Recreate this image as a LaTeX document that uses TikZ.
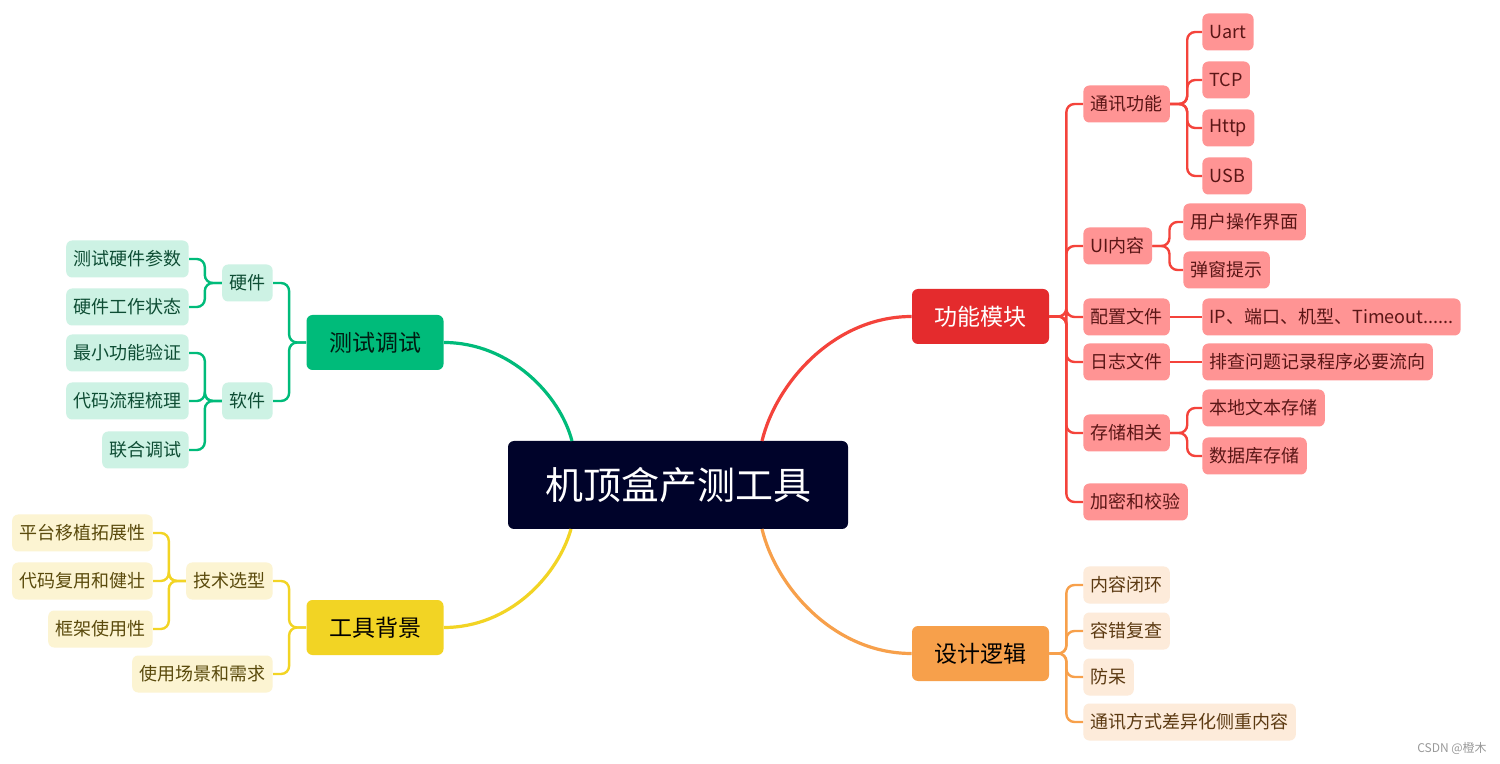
\documentclass[tikz,border=0pt]{standalone}
\usepackage{fontspec}
\setmainfont{Noto Sans CJK SC}
\definecolor{cnavy}{HTML}{00032A}
\definecolor{rmain}{HTML}{E42B2D}
\definecolor{rline}{HTML}{F4433B}
\definecolor{rchild}{HTML}{FF9494}
\definecolor{rtext}{HTML}{5A1616}
\definecolor{omain}{HTML}{F7A04B}
\definecolor{ochild}{HTML}{FDEBDA}
\definecolor{otext}{HTML}{5C3A12}
\definecolor{gmain}{HTML}{00BB7A}
\definecolor{gchild}{HTML}{CDF2E4}
\definecolor{gtext}{HTML}{0E4D34}
\definecolor{ymain}{HTML}{F2D424}
\definecolor{ychild}{HTML}{FCF4D2}
\definecolor{ytext}{HTML}{5A4A0C}
\tikzset{
  centralbox/.style={fill=cnavy, text=white, rounded corners=3pt, minimum width=170pt, minimum height=44pt, inner sep=0pt, font=\fontsize{19}{19}\selectfont},
  mainbox/.style={rounded corners=3pt, minimum width=68.5pt, minimum height=27.5pt, inner sep=0pt, font=\fontsize{11.5}{11.5}\selectfont},
  childbox/.style={rounded corners=3pt, minimum height=18.5pt, inner xsep=3.6pt, inner ysep=0pt, font=\fontsize{9}{9}\selectfont},
  rc/.style={childbox, fill=rchild, text=rtext, anchor=west},
  oc/.style={childbox, fill=ochild, text=otext, anchor=west},
  gc/.style={childbox, fill=gchild, text=gtext, anchor=east},
  yc/.style={childbox, fill=ychild, text=ytext, anchor=east},
  branch/.style={line width=1.2pt, rounded corners=4pt},
  curveline/.style={line width=1.6pt},
}
\begin{document}
\begin{tikzpicture}[x=0.5pt,y=-0.5pt]
\fill[white] (0,0) rectangle (1500,764);
\useasboundingbox (0,0) rectangle (1500,764);

% main nodes
\node[centralbox] (root) at (678,485) {机顶盒产测工具};
\node[mainbox, fill=rmain, text=white] (fn) at (980.5,316.5) {功能模块};
\node[mainbox, fill=omain, text=black] (dl) at (980.5,653.5) {设计逻辑};
\node[mainbox, fill=gmain, text=black!85!gmain] (ts) at (375,342.5) {测试调试};
\node[mainbox, fill=ymain, text=black] (bg) at (375,627.5) {工具背景};

\coordinate (rg) at (572,441);
\coordinate (rr) at (762,441);
\coordinate (ro) at (762,529);
\coordinate (ry) at (571,529);

\draw[curveline, gmain] (ts.east) .. controls (510,342.5) and (560,395) .. (rg);
\draw[curveline, rline] (fn.west) .. controls (834,316.5) and (776,383) .. (rr);
\draw[curveline, omain] (dl.west) .. controls (834,653.5) and (776,587) .. (ro);
\draw[curveline, ymain] (bg.east) .. controls (510,627.5) and (558,575) .. (ry);

% red children
\node[rc] (tx) at (1083,104) {通讯功能};
\node[rc] (ui) at (1083,246) {UI内容};
\node[rc] (pz) at (1083,317) {配置文件};
\node[rc] (rz) at (1083,362) {日志文件};
\node[rc] (cc) at (1083,433) {存储相关};
\node[rc] (jm) at (1083,502) {加密和校验};

\node[rc] (uart) at (1202,32) {Uart};
\node[rc] (tcp) at (1202,80) {TCP};
\node[rc] (http) at (1202,128) {Http};
\node[rc] (usb) at (1202,176) {USB};
\node[rc] (yh) at (1183,222) {用户操作界面};
\node[rc] (tc) at (1183,270) {弹窗提示};
\node[rc] (ip) at (1202,317) {IP、端口、机型、Timeout......};
\node[rc] (pc) at (1202,362) {排查问题记录程序必要流向};
\node[rc] (bd) at (1202,408) {本地文本存储};
\node[rc] (sj) at (1202,456) {数据库存储};

\foreach \c in {tx,ui,pz,rz,cc,jm}
  \draw[branch, rline] (fn.east) -- ++(17,0) |- (\c.west);
\foreach \c in {uart,tcp,http,usb}
  \draw[branch, rline] (tx.east) -- ++(17,0) |- (\c.west);
\foreach \c in {yh,tc}
  \draw[branch, rline] (ui.east) -- ++(17,0) |- (\c.west);
\draw[branch, rline] (pz.east) -- (ip.west);
\draw[branch, rline] (rz.east) -- (pc.west);
\foreach \c in {bd,sj}
  \draw[branch, rline] (cc.east) -- ++(17,0) |- (\c.west);

% orange children
\node[oc] (o1) at (1083,585) {内容闭环};
\node[oc] (o2) at (1083,631) {容错复查};
\node[oc] (o3) at (1083,677) {防呆};
\node[oc] (o4) at (1083,722) {通讯方式差异化侧重内容};
\foreach \c in {o1,o2,o3,o4}
  \draw[branch, omain] (dl.east) -- ++(17,0) |- (\c.west);

% green children
\node[gc] (yj) at (273,283) {硬件};
\node[gc] (rj) at (273,401) {软件};
\node[gc] (g1) at (189,259) {测试硬件参数};
\node[gc] (g2) at (189,307) {硬件工作状态};
\node[gc] (g3) at (189,353) {最小功能验证};
\node[gc] (g4) at (189,401) {代码流程梳理};
\node[gc] (g5) at (189,450) {联合调试};
\foreach \c in {yj,rj}
  \draw[branch, gmain] (ts.west) -- ++(-17,0) |- (\c.east);
\foreach \c in {g1,g2}
  \draw[branch, gmain] (yj.west) -- ++(-17,0) |- (\c.east);
\foreach \c in {g3,g4,g5}
  \draw[branch, gmain] (rj.west) -- ++(-17,0) |- (\c.east);

% yellow children
\node[yc] (js) at (273,581) {技术选型};
\node[yc] (sy) at (273,674) {使用场景和需求};
\node[yc] (y1) at (153,533) {平台移植拓展性};
\node[yc] (y2) at (153,581) {代码复用和健壮};
\node[yc] (y3) at (153,629) {框架使用性};
\foreach \c in {js,sy}
  \draw[branch, ymain] (bg.west) -- ++(-17,0) |- (\c.east);
\foreach \c in {y1,y2,y3}
  \draw[branch, ymain] (js.west) -- ++(-17,0) |- (\c.east);

% watermark
\node[text=black!40, font=\fontsize{6}{6}\selectfont, inner sep=0pt] (wm) at (1452,748) {CSDN @橙木};
\end{tikzpicture}
\end{document}
